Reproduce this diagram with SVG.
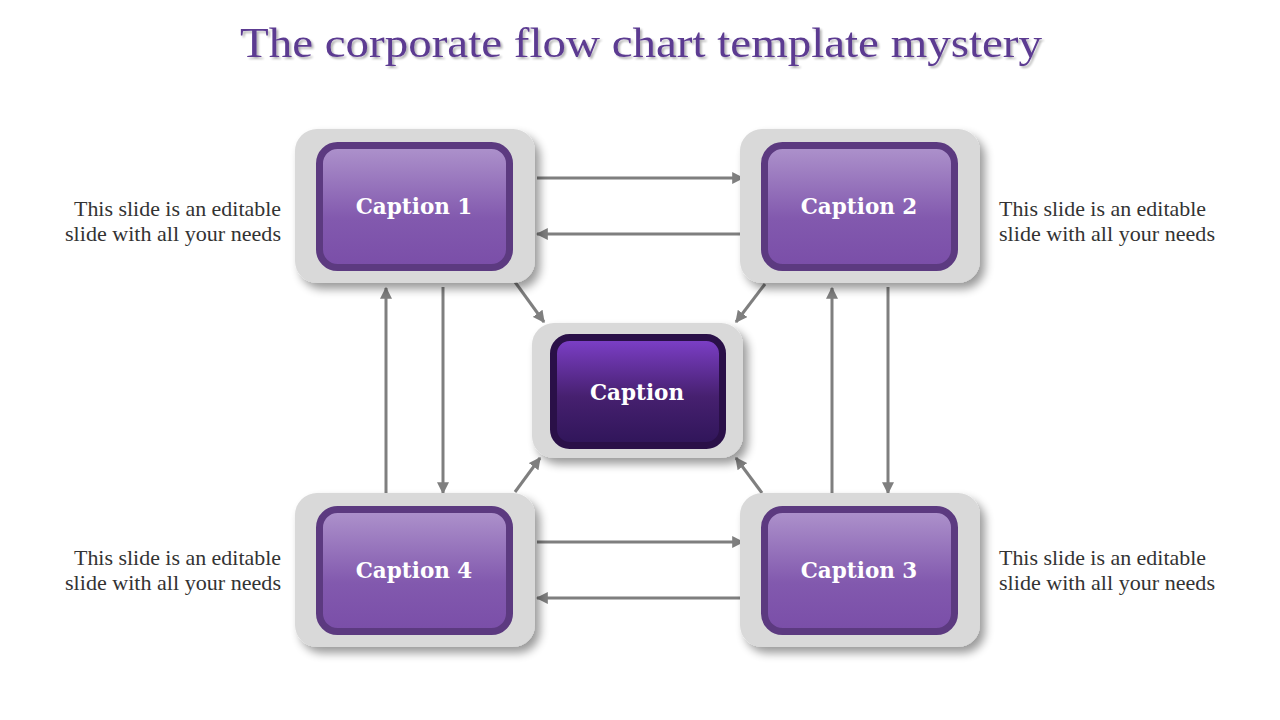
<svg xmlns="http://www.w3.org/2000/svg" width="1280" height="720" viewBox="0 0 1280 720">
<defs>
<linearGradient id="gl" x1="0" y1="0" x2="0" y2="1">
<stop offset="0" stop-color="#ae93cc"/><stop offset="0.6" stop-color="#8259ae"/><stop offset="1" stop-color="#7a4ea8"/>
</linearGradient>
<linearGradient id="gc" x1="0" y1="0" x2="0" y2="1">
<stop offset="0" stop-color="#7e40ca"/><stop offset="0.55" stop-color="#46206f"/><stop offset="1" stop-color="#2f1559"/>
</linearGradient>
<filter id="sh" x="-20%" y="-20%" width="150%" height="150%">
<feGaussianBlur in="SourceAlpha" stdDeviation="5"/>
<feOffset dx="5" dy="6"/>
<feComponentTransfer><feFuncA type="linear" slope="0.4"/></feComponentTransfer>
<feMerge><feMergeNode/><feMergeNode in="SourceGraphic"/></feMerge>
</filter>
<filter id="tsh" x="-5%" y="-20%" width="110%" height="150%">
<feGaussianBlur in="SourceAlpha" stdDeviation="1"/>
<feOffset dx="2" dy="2"/>
<feComponentTransfer><feFuncA type="linear" slope="0.3"/></feComponentTransfer>
<feMerge><feMergeNode/><feMergeNode in="SourceGraphic"/></feMerge>
</filter>
<marker id="ar" viewBox="0 0 10 10" refX="9" refY="5" markerWidth="4" markerHeight="4" orient="auto" markerUnits="strokeWidth">
<path d="M0,0 L10,5 L0,10 z" fill="#7f7f7f"/>
</marker>
</defs>
<style>
.outer{fill:#d9d9d9;filter:url(#sh)}
.inner{fill:url(#gl);stroke:#5c3a80;stroke-width:7}
.innerc{fill:url(#gc);stroke:#2a1048;stroke-width:7}
.cap{font-family:Georgia,"DejaVu Serif","Liberation Serif",serif;font-weight:bold;font-size:21.5px;fill:#ffffff;text-anchor:middle}
.desc{font-family:Georgia,"Liberation Serif",serif;font-size:21px;fill:#333333}
.con line{stroke:#7f7f7f;stroke-width:3;marker-end:url(#ar)}
</style>
<rect width="1280" height="720" fill="#ffffff"/>
<text x="641" y="57" text-anchor="middle" font-family="Georgia,'Liberation Serif',serif" font-size="42" fill="#5b3a91" filter="url(#tsh)" textLength="802" lengthAdjust="spacingAndGlyphs">The corporate flow chart template mystery</text>

<g id="connectors" class="con">
<line x1="537" y1="178" x2="743" y2="178"/>
<line x1="743" y1="234" x2="537" y2="234"/>
<line x1="537" y1="542" x2="743" y2="542"/>
<line x1="743" y1="598" x2="537" y2="598"/>
<line x1="386" y1="493" x2="386" y2="288"/>
<line x1="443" y1="287" x2="443" y2="493"/>
<line x1="832" y1="493" x2="832" y2="288"/>
<line x1="888" y1="287" x2="888" y2="493"/>
<line x1="515" y1="282" x2="544" y2="322"/>
<line x1="765" y1="284" x2="736" y2="322"/>
<line x1="515" y1="492" x2="540" y2="458"/>
<line x1="762" y1="493" x2="736" y2="458"/>
</g>

<g id="node-center">
<rect class="outer" x="532" y="323" width="211" height="135" rx="22"/>
<rect class="innerc" x="553.5" y="337.5" width="169" height="108" rx="16"/>
<text class="cap" x="637" y="400">Caption</text>
</g>
<g id="node-1">
<rect class="outer" x="295" y="129" width="240" height="154" rx="22"/>
<rect class="inner" x="319.5" y="145.5" width="190" height="122" rx="18"/>
<text class="cap" x="414" y="214">Caption 1</text>
</g>
<g id="node-2">
<rect class="outer" x="740" y="129" width="240" height="154" rx="22"/>
<rect class="inner" x="764.5" y="145.5" width="190" height="122" rx="18"/>
<text class="cap" x="859" y="214">Caption 2</text>
</g>
<g id="node-4">
<rect class="outer" x="295" y="493" width="240" height="154" rx="22"/>
<rect class="inner" x="319.5" y="509.5" width="190" height="122" rx="18"/>
<text class="cap" x="414" y="578">Caption 4</text>
</g>
<g id="node-3">
<rect class="outer" x="740" y="493" width="240" height="154" rx="22"/>
<rect class="inner" x="764.5" y="509.5" width="190" height="122" rx="18"/>
<text class="cap" x="859" y="578">Caption 3</text>
</g>

<g id="text-1" class="desc" text-anchor="end">
<text x="281" y="216" textLength="207" lengthAdjust="spacingAndGlyphs">This slide is an editable</text>
<text x="281" y="241" textLength="216" lengthAdjust="spacingAndGlyphs">slide with all your needs</text>
</g>
<g id="text-2" class="desc">
<text x="999" y="216" textLength="207" lengthAdjust="spacingAndGlyphs">This slide is an editable</text>
<text x="999" y="241" textLength="216" lengthAdjust="spacingAndGlyphs">slide with all your needs</text>
</g>
<g id="text-4" class="desc" text-anchor="end">
<text x="281" y="565" textLength="207" lengthAdjust="spacingAndGlyphs">This slide is an editable</text>
<text x="281" y="590" textLength="216" lengthAdjust="spacingAndGlyphs">slide with all your needs</text>
</g>
<g id="text-3" class="desc">
<text x="999" y="565" textLength="207" lengthAdjust="spacingAndGlyphs">This slide is an editable</text>
<text x="999" y="590" textLength="216" lengthAdjust="spacingAndGlyphs">slide with all your needs</text>
</g>
</svg>
